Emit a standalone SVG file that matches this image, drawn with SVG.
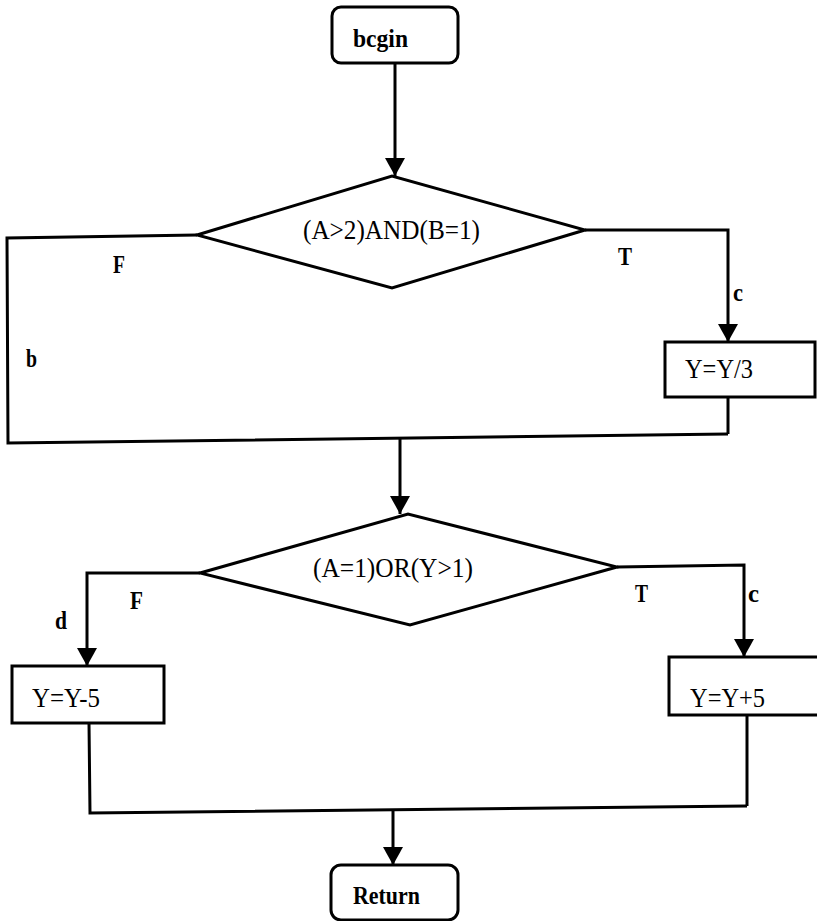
<svg xmlns="http://www.w3.org/2000/svg" width="817" height="921" viewBox="0 0 817 921">
<defs>
<marker id="arr" viewBox="0 0 18 20" refX="18" refY="10" markerWidth="18" markerHeight="20" markerUnits="userSpaceOnUse" orient="auto">
<path d="M0,0 L18,10 L0,20 z" fill="#000"/>
</marker>
<style>
.shape{fill:#fff;stroke:#000;stroke-width:3;stroke-linejoin:miter}
.line{fill:none;stroke:#000;stroke-width:3;stroke-linejoin:miter}
.t{font-family:"Liberation Serif","Times New Roman",serif;font-size:27px;fill:#000}
.b{font-family:"Liberation Serif","Times New Roman",serif;font-size:26px;font-weight:bold;fill:#000}
</style>
</defs>
<rect width="817" height="921" fill="#fff"/>
<g id="connectors">
<path class="line" d="M395,63 L395,176" marker-end="url(#arr)"/>
<path class="line" d="M197,235 L7,238 L8,443 L728,434"/>
<path class="line" d="M728,397 L728,434"/>
<path class="line" d="M585,230 L728,230 L728,342" marker-end="url(#arr)"/>
<path class="line" d="M400,438 L400,514" marker-end="url(#arr)"/>
<path class="line" d="M200,573 L87,573 L87,666" marker-end="url(#arr)"/>
<path class="line" d="M617,567 L744,565 L744,657" marker-end="url(#arr)"/>
<path class="line" d="M89,723 L90,813 L747,806"/>
<path class="line" d="M747,715 L747,806"/>
<path class="line" d="M393,810 L393,865" marker-end="url(#arr)"/>
<text class="b" x="113" y="273" textLength="12" lengthAdjust="spacingAndGlyphs">F</text>
<text class="b" x="618" y="265" textLength="14" lengthAdjust="spacingAndGlyphs">T</text>
<text class="b" x="733" y="301" textLength="10" lengthAdjust="spacingAndGlyphs">c</text>
<text class="b" x="26" y="367" textLength="11" lengthAdjust="spacingAndGlyphs">b</text>
<text class="b" x="130" y="609" textLength="13" lengthAdjust="spacingAndGlyphs">F</text>
<text class="b" x="55" y="629" textLength="12" lengthAdjust="spacingAndGlyphs">d</text>
<text class="b" x="635" y="602" textLength="13" lengthAdjust="spacingAndGlyphs">T</text>
<text class="b" x="748" y="602" textLength="11" lengthAdjust="spacingAndGlyphs">c</text>
</g>
<g id="begin">
<rect class="shape" x="332" y="7" width="126" height="56" rx="9"/>
<text class="b" x="353" y="47" textLength="55" lengthAdjust="spacingAndGlyphs">bcgin</text>
</g>
<g id="decision1">
<polygon class="shape" points="197,235 392,176 585,230 392,288"/>
<text class="t" x="303" y="239" textLength="177" lengthAdjust="spacingAndGlyphs">(A&gt;2)AND(B=1)</text>
</g>
<g id="div3">
<rect class="shape" x="665" y="342" width="150" height="55"/>
<text class="t" x="685" y="378" textLength="68" lengthAdjust="spacingAndGlyphs">Y=Y/3</text>
</g>
<g id="decision2">
<polygon class="shape" points="200,573 408,514 617,567 410,625"/>
<text class="t" x="313" y="577" textLength="160" lengthAdjust="spacingAndGlyphs">(A=1)OR(Y&gt;1)</text>
</g>
<g id="minus5">
<rect class="shape" x="12" y="666" width="152" height="57"/>
<text class="t" x="32" y="707" textLength="68" lengthAdjust="spacingAndGlyphs">Y=Y-5</text>
</g>
<g id="plus5">
<rect class="shape" x="669" y="657" width="152" height="58"/>
<text class="t" x="690" y="707" textLength="75" lengthAdjust="spacingAndGlyphs">Y=Y+5</text>
</g>
<g id="return">
<rect class="shape" x="331" y="865" width="127" height="55" rx="10"/>
<text class="b" x="353" y="904" textLength="67" lengthAdjust="spacingAndGlyphs">Return</text>
</g>
</svg>
